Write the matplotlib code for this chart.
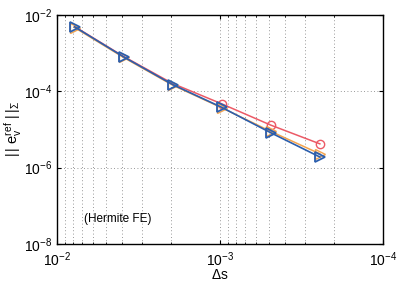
import numpy as np
import matplotlib.pyplot as plt
from matplotlib.ticker import LogLocator, NullLocator, NullFormatter

plt.rcParams['font.family'] = ['Liberation Sans', 'DejaVu Sans']
plt.rcParams['mathtext.fontset'] = 'custom'
plt.rcParams['mathtext.rm'] = 'Liberation Sans'
plt.rcParams['mathtext.it'] = 'Liberation Sans'

# Paso de tiempo y errores
ds = [1/128, 1/256, 1/512, 1/1024, 1/2048, 1/4096]
err_rojo = [5.0e-3, 8.2e-4, 1.6e-4, 4.7e-5, 1.3e-5, 4.2e-6]
err_naranja = [4.7e-3, 7.7e-4, 1.45e-4, 3.7e-5, 8.9e-6, 2.3e-6]
err_azul = [4.9e-3, 8.0e-4, 1.5e-4, 3.8e-5, 8.2e-6, 1.9e-6]

fig = plt.figure(figsize=(3.99, 2.83), dpi=100)
ax = fig.add_axes([0.143, 0.138, 0.817, 0.809])

ax.loglog(ds, err_rojo, color='#ec5a66', marker='o', markersize=6,
          markerfacecolor='none', linewidth=1.1, markevery=[3, 4, 5])
ax.loglog(ds, err_naranja, color='#f4a44e', marker='>', markersize=7,
          markerfacecolor='none', linewidth=1.1)
ax.loglog(ds, err_azul, color='#2b5ead', marker='>', markersize=7,
          markerfacecolor='none', linewidth=1.2, markeredgewidth=1.3)

ax.set_xlim(1e-2, 1e-4)
ax.set_ylim(1e-8, 1e-2)
ax.set_yticks([1e-8, 1e-6, 1e-4, 1e-2])
ax.yaxis.set_minor_locator(NullLocator())
ax.xaxis.set_minor_locator(LogLocator(base=10, subs=np.arange(2, 10)))
ax.xaxis.set_minor_formatter(NullFormatter())

ax.grid(True, which='major', linestyle=(0, (1, 3)), color='#777777', linewidth=0.6)
ax.grid(True, which='minor', axis='x', linestyle=(0, (1, 3)), color='#777777', linewidth=0.6)
ax.tick_params(which='both', direction='in', top=True, right=True, labelsize=10)
ax.tick_params(which='major', length=3)
ax.tick_params(which='minor', length=1.5)
ax.tick_params(axis='x', pad=5)
for s in ax.spines.values():
    s.set_linewidth(1.0)

ax.set_xlabel(r'$\Delta$s', fontsize=10, labelpad=-1)
ax.set_ylabel(r'$|\,|\ \mathrm{e}_\mathrm{v}^\mathrm{ref}\ |\,|_\Sigma$', fontsize=10.5, labelpad=0)
ax.text(0.083, 0.095, '(Hermite FE)', transform=ax.transAxes, fontsize=8.5)

fig.savefig('out.png', dpi=100)
